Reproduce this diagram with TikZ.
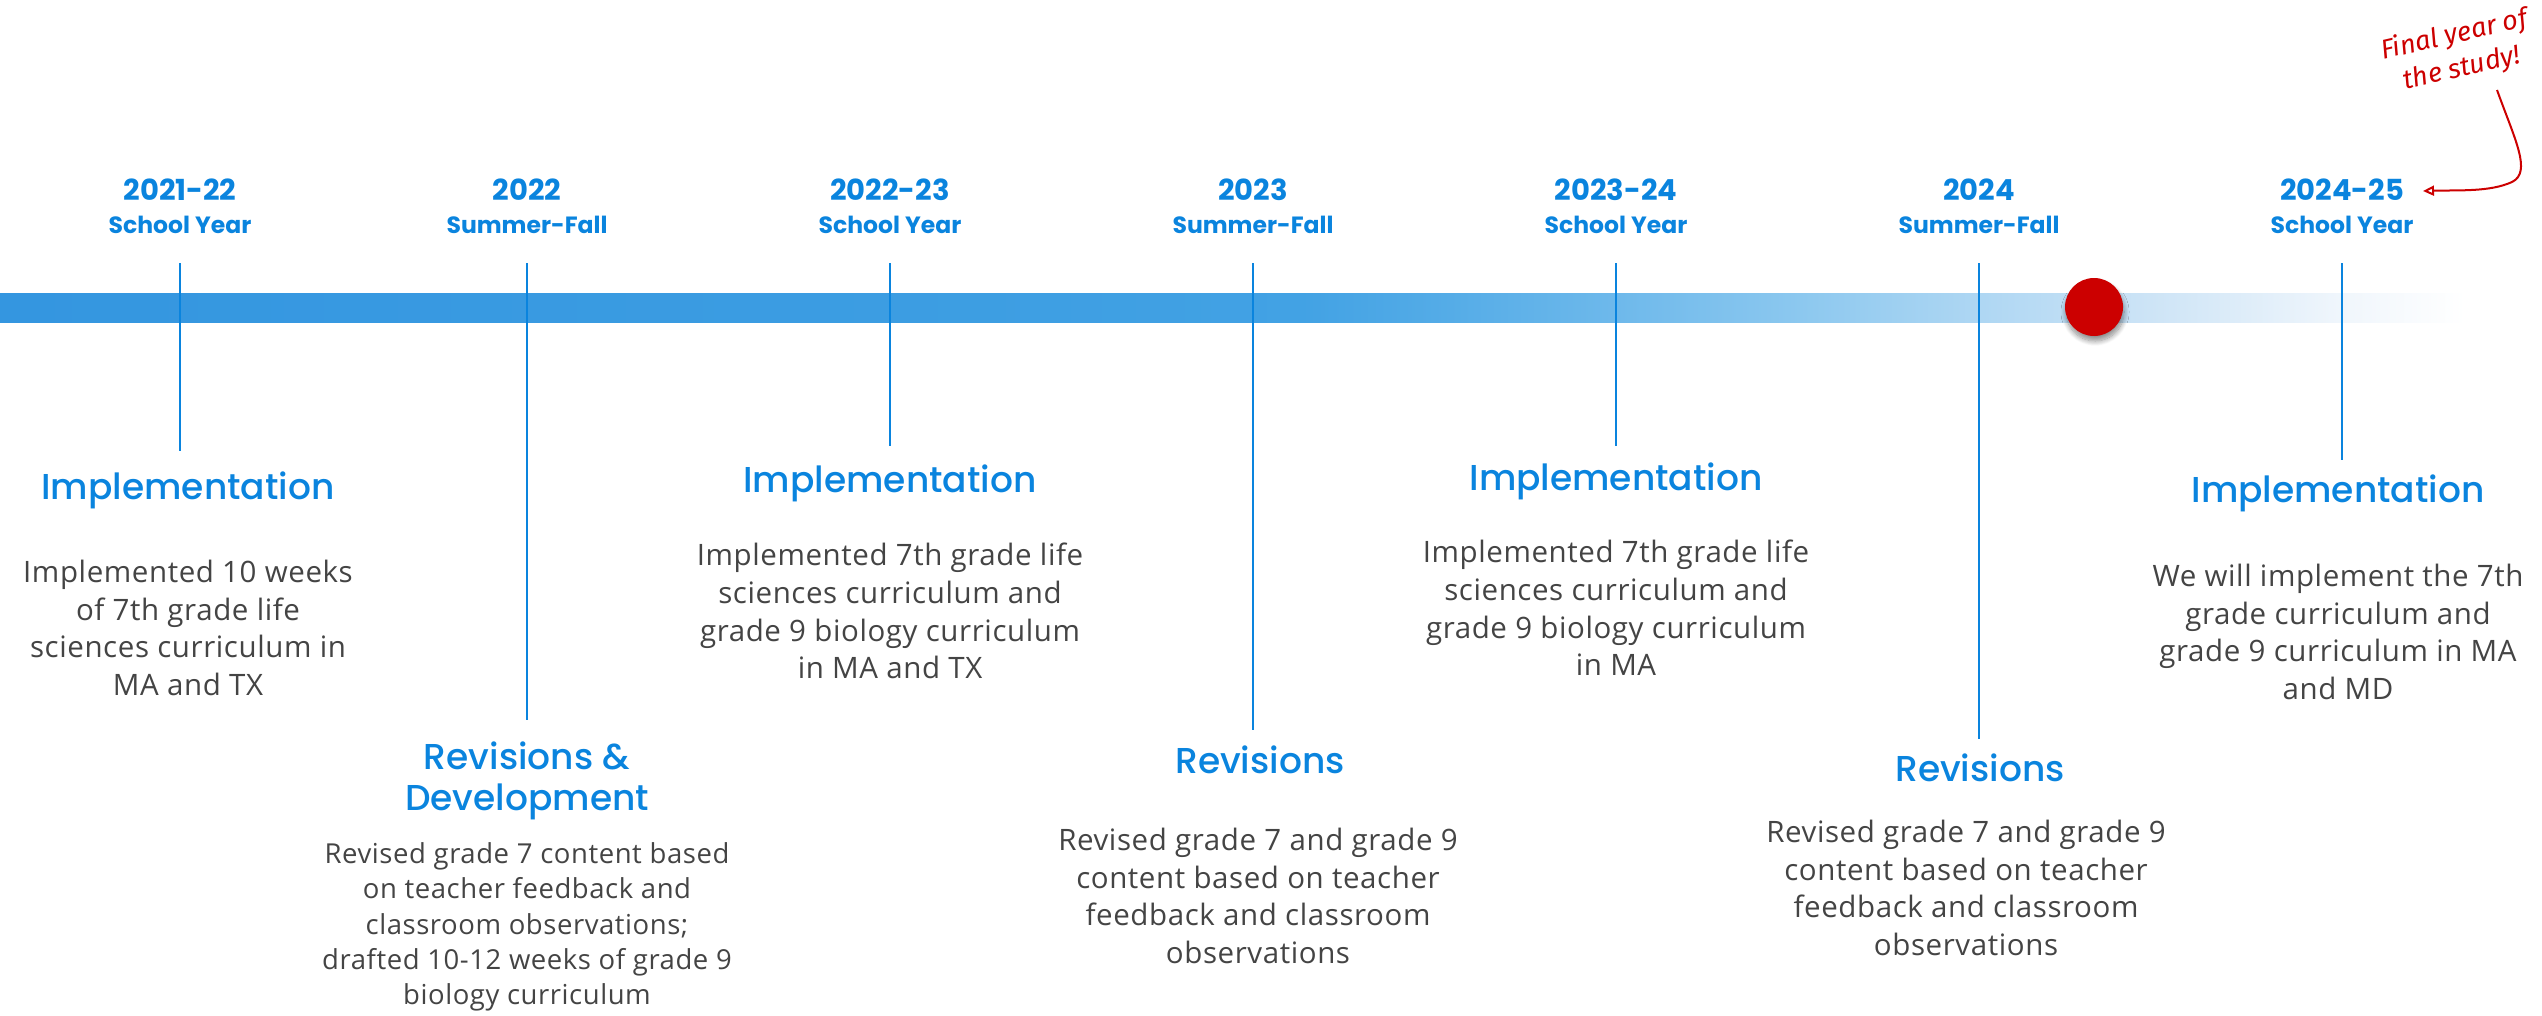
\documentclass[tikz,border=0pt]{standalone}
\usepackage{fontspec}
\setmainfont{Open Sans}[LetterSpace=2]
\newfontfamily\headfont{Poppins Medium}
\newfontfamily\yearfont{Poppins}
\newfontfamily\notefont{Fira Sans}
\usetikzlibrary{arrows.meta,shadows.blur}

\definecolor{tlblue}{RGB}{10,132,222}
\definecolor{bodygray}{RGB}{68,68,68}
\definecolor{notered}{RGB}{204,0,0}

% timeline bar: solid blue on the left, fading to white on the right
\pgfdeclarehorizontalshading{barfade}{100bp}{
  rgb(0bp)=(0.204,0.588,0.878);
  rgb(25bp)=(0.204,0.588,0.878);
  rgb(43.3bp)=(0.235,0.616,0.886);
  rgb(51.4bp)=(0.259,0.635,0.894);
  rgb(54.4bp)=(0.333,0.675,0.906);
  rgb(57.8bp)=(0.431,0.725,0.922);
  rgb(61.5bp)=(0.549,0.784,0.937);
  rgb(65.2bp)=(0.686,0.843,0.953);
  rgb(68.6bp)=(0.804,0.894,0.965);
  rgb(72.5bp)=(0.941,0.965,0.988);
  rgb(75bp)=(1,1,1);
  rgb(100bp)=(1,1,1)}

\tikzset{
  year/.style={font=\yearfont\bfseries\fontsize{29}{32}\selectfont, text=tlblue, inner sep=0},
  season/.style={font=\yearfont\bfseries\fontsize{23.5}{26}\selectfont, text=tlblue, inner sep=0},
  tick/.style={draw=tlblue, line width=2.5pt},
  head/.style={font=\headfont\fontsize{36}{41}\selectfont, text=tlblue, align=center, inner sep=0},
  body/.style={font=\fontsize{29.5}{37.7}\selectfont, text=bodygray, align=center, inner sep=0},
  bodysmall/.style={font=\fontsize{27.5}{35.3}\selectfont, text=bodygray, align=center, inner sep=0},
  note/.style={font=\notefont\itshape\fontsize{27}{34}\selectfont, text=notered, align=center, inner sep=0},
  notearrow/.style={draw=notered, line width=2pt, -{Triangle[open,length=11pt,width=10pt]}},
}

\begin{document}
\begin{tikzpicture}[x=1pt,y=-1pt]
\useasboundingbox (0,0) rectangle (2542,1015);

% bar
\shade[shading=barfade] (0,293) rectangle (2465,322);

% period labels
\node[year]   (y1) at (180,190)  {2021-22};
\node[season] (s1) at (180,225)  {School Year};
\node[year]   (y2) at (527,190)  {2022};
\node[season] (s2) at (527,225)  {Summer-Fall};
\node[year]   (y3) at (890,190)  {2022-23};
\node[season] (s3) at (890,225)  {School Year};
\node[year]   (y4) at (1253,190) {2023};
\node[season] (s4) at (1253,225) {Summer-Fall};
\node[year]   (y5) at (1616,190) {2023-24};
\node[season] (s5) at (1616,225) {School Year};
\node[year]   (y6) at (1979,190) {2024};
\node[season] (s6) at (1979,225) {Summer-Fall};
\node[year]   (y7) at (2342,190) {2024-25};
\node[season] (s7) at (2342,225) {School Year};

% tick marks
\coordinate (t1) at (180,263);  \coordinate (b1) at (180,451);
\coordinate (t2) at (527,263);  \coordinate (b2) at (527,720);
\coordinate (t3) at (890,263);  \coordinate (b3) at (890,446);
\coordinate (t4) at (1253,263); \coordinate (b4) at (1253,730);
\coordinate (t5) at (1616,263); \coordinate (b5) at (1616,446);
\coordinate (t6) at (1979,263); \coordinate (b6) at (1979,739);
\coordinate (t7) at (2342,263); \coordinate (b7) at (2342,460);
\foreach \i in {1,...,7} \draw[tick] (t\i) -- (b\i);

% current position marker
\node[circle, fill=notered, minimum size=58pt, inner sep=0,
      blur shadow={shadow xshift=1pt, shadow yshift=-5pt, shadow opacity=45,
                   shadow blur radius=5pt, shadow blur steps=10}] (dot) at (2094,307) {};

% phases
\node[head] (h1) at (188,490)  {Implementation};
\node[body] (d1) at (188,628)  {Implemented 10 weeks\\of 7th grade life\\sciences curriculum in\\MA and TX};

\node[head] (h2) at (527,781)  {Revisions \&\\Development};
\node[bodysmall] (d2) at (527,927) {Revised grade 7 content based\\on teacher feedback and\\classroom observations;\\drafted 10-12 weeks of grade 9\\biology curriculum};

\node[head] (h3) at (890,483)  {Implementation};
\node[body] (d3) at (890,611)  {Implemented 7th grade life\\sciences curriculum and\\grade 9 biology curriculum\\in MA and TX};

\node[head] (h4) at (1260,760) {Revisions};
\node[body] (d4) at (1258,896) {Revised grade 7 and grade 9\\content based on teacher\\feedback and classroom\\observations};

\node[head] (h5) at (1616,481) {Implementation};
\node[body] (d5) at (1616,608) {Implemented 7th grade life\\sciences curriculum and\\grade 9 biology curriculum\\in MA};

\node[head] (h6) at (1980,768) {Revisions};
\node[body] (d6) at (1966,888) {Revised grade 7 and grade 9\\content based on teacher\\feedback and classroom\\observations};

\node[head] (h7) at (2338,493) {Implementation};
\node[body] (d7) at (2338,632) {We will implement the 7th\\grade curriculum and\\grade 9 curriculum in MA\\and MD};

% annotation
\node[note, rotate=13] (note) at (2458,52) {Final year of\\the study!};
\coordinate (nstart) at (2497,90);
\coordinate (nend) at (2423,191);
\draw[notearrow] (nstart) .. controls (2515,140) and (2532,172) .. (2512,182)
                 .. controls (2490,192) and (2460,190) .. (nend);
\end{tikzpicture}
\end{document}
